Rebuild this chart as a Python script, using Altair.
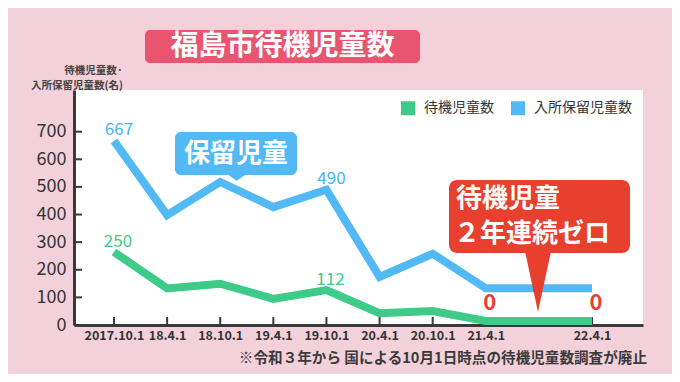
import altair as alt
import pandas as pd

# ---------------- data ----------------
dates = ["2017.10.1", "18.4.1", "18.10.1", "19.4.1", "19.10.1",
         "20.4.1", "20.10.1", "21.4.1", "21.10.1", "22.4.1"]
# half-year slots that were surveyed (21.10.1 survey was abolished)
survey_idx = [0, 1, 2, 3, 4, 5, 6, 7, 9]
waiting = [250, 118, 135, 80, 112, 28, 36, 0, 0]          # 待機児童数
reserved = [667, 398, 518, 427, 490, 174, 258, 133, 133]  # 入所保留児童数
series_names = ["待機児童数", "入所保留児童数"]
series_colors = ["#3ecb8a", "#52b9f4"]
x_tick_idx = [0, 1, 2, 3, 4, 5, 6, 7, 9]
y_ticks = [0, 100, 200, 300, 400, 500, 600, 700]
labeled_idx = [0, 4]
zero_idx = [7, 9]

FONT = "Noto Sans CJK JP"
W, H = 569, 235

rows = []
for i, v in zip(survey_idx, waiting):
    rows.append({"idx": i, "value": v, "series": series_names[0]})
for i, v in zip(survey_idx, reserved):
    rows.append({"idx": i, "value": v, "series": series_names[1]})
df = pd.DataFrame(rows)

label_js = "[" + ",".join("'%s'" % d for d in dates) + "]"
xaxis = alt.Axis(values=x_tick_idx, labelExpr=label_js + "[datum.value]",
                 title=None, grid=False, ticks=False, domain=True,
                 domainColor="#3a3a3a", domainWidth=3, labelFontSize=12.5,
                 labelFontWeight=600, labelColor="#333333", labelPadding=4,
                 labelFont=FONT, labelOverlap=False, labelBound=False)
yaxis = alt.Axis(values=y_ticks, title=None, grid=False, ticks=False,
                 domain=True, domainColor="#3a3a3a", domainWidth=3,
                 labelFontSize=18, labelColor="#333333", labelPadding=8,
                 labelFont=FONT, labelOverlap=False)
xscale = alt.Scale(domain=[-0.753, 9.96], nice=False, zero=False)
yscale = alt.Scale(domain=[0, 851], nice=False)

xenc = alt.X("idx:Q", scale=xscale, axis=xaxis)
yenc = alt.Y("value:Q", scale=yscale, axis=yaxis)
color_enc = alt.Color("series:N",
                      scale=alt.Scale(domain=series_names, range=series_colors),
                      legend=alt.Legend(title=None, orient="none", legendX=327,
                                        legendY=11, direction="horizontal",
                                        symbolType="square", symbolSize=9,
                                        symbolStrokeWidth=11, labelFontSize=14,
                                        labelColor="#333333", labelFont=FONT,
                                        labelOffset=9, columnPadding=0,
                                        padding=0))

base = alt.Chart(df).encode(x=xenc, y=yenc)


def sel(series, idxs):
    return "datum.series == '%s' && indexof([%s], datum.idx) >= 0" % (
        series, ",".join(str(i) for i in idxs))


green_line = base.transform_filter("datum.series == '%s'" % series_names[0]).mark_line(
    strokeWidth=8, strokeJoin="miter", strokeCap="butt", yOffset=-4
).encode(color=color_enc)
blue_line = base.transform_filter("datum.series == '%s'" % series_names[1]).mark_line(
    strokeWidth=8, strokeJoin="miter", strokeCap="butt"
).encode(color=color_enc)

blue_lab = base.transform_filter(sel(series_names[1], labeled_idx)).mark_text(
    font=FONT, fontSize=17, color="#4db3ef", baseline="bottom", dx=5, dy=-2
).encode(text="value:Q")
green_lab = base.transform_filter(sel(series_names[0], labeled_idx)).mark_text(
    font=FONT, fontSize=17, color="#3ecb8a", baseline="bottom", dx=4, dy=-5
).encode(text="value:Q")
zero_lab = base.transform_filter(sel(series_names[0], zero_idx)).mark_text(
    font=FONT, fontSize=22, fontWeight="bold", color="#e8402f",
    baseline="bottom", dx=4, dy=-10
).encode(text="value:Q")

# inward ticks
xticks = alt.Chart(pd.DataFrame({"idx": x_tick_idx})).mark_rule(
    color="#3a3a3a", strokeWidth=2).encode(x=xenc, y=alt.value(H), y2=alt.value(H - 8))
yticks = alt.Chart(pd.DataFrame({"value": y_ticks})).mark_rule(
    color="#3a3a3a", strokeWidth=2).encode(y=yenc, x=alt.value(0), x2=alt.value(8))

one = pd.DataFrame({"k": [0]})


def text(t, x, y, size, color, weight="bold", align="center", baseline="middle"):
    return alt.Chart(pd.DataFrame({"t": [t]})).mark_text(
        font=FONT, fontSize=size, fontWeight=weight, color=color, align=align,
        baseline=baseline).encode(text="t:N", x=alt.value(x), y=alt.value(y))


def box(x, x2, y, y2, color, r):
    return alt.Chart(one).mark_rect(color=color, cornerRadius=r).encode(
        x=alt.value(x), x2=alt.value(x2), y=alt.value(y), y2=alt.value(y2))


def tri(path, size, x, y, color):
    return alt.Chart(one).mark_point(shape=path, size=size, filled=True, opacity=1,
                                     strokeWidth=0, color=color).encode(
        x=alt.value(x), y=alt.value(y))


title_box = box(71, 346, -60, -27, "#e9546e", 5)
title_txt = text("福島市待機児童数", 208.5, -43, 28, "white")
ytitle1 = text("待機児童数·", 49, -19, 10.5, "#444444", align="right")
ytitle2 = text("入所保留児童数(名)", 49, -4, 10.5, "#444444", align="right")

blue_box = box(101, 223, 42, 85, "#52b9f4", 6)
blue_tri = tri("M-1,-0.1L1,-0.1L0,0.6Z", 324, 162.7, 85.4, "#52b9f4")
blue_txt = text("保留児童", 162, 63.5, 26, "white")

red_box = box(375, 556, 90, 163, "#e8402f", 8)
red_tri = tri("M-0.45,-1.1L0.45,-1.1L0,1Z", 3600, 464, 192, "#e8402f")
red_txt1 = text("待機児童", 382, 109, 26, "white", align="left")
red_txt2 = text("２年連続ゼロ", 380, 144, 26, "white", align="left")

note = text("※令和３年から 国による10月1日時点の待機児童数調査が廃止", 573, 269, 14.6,
            "#3a3a3a", align="right")

chart = alt.layer(
    xticks, yticks, green_line, blue_line, blue_lab, green_lab, zero_lab,
    title_box, title_txt, ytitle1, ytitle2,
    blue_box, blue_tri, blue_txt, red_box, red_tri, red_txt1, red_txt2, note
).properties(
    width=W, height=H,
    padding={"left": 66, "top": 82, "right": 29, "bottom": 49},
    autosize=alt.AutoSizeParams(type="none"),
    background="#f3d1db",
).configure_view(fill="white", strokeWidth=0)

chart.save("out.html", embed_options={"renderer": "svg", "actions": False})
